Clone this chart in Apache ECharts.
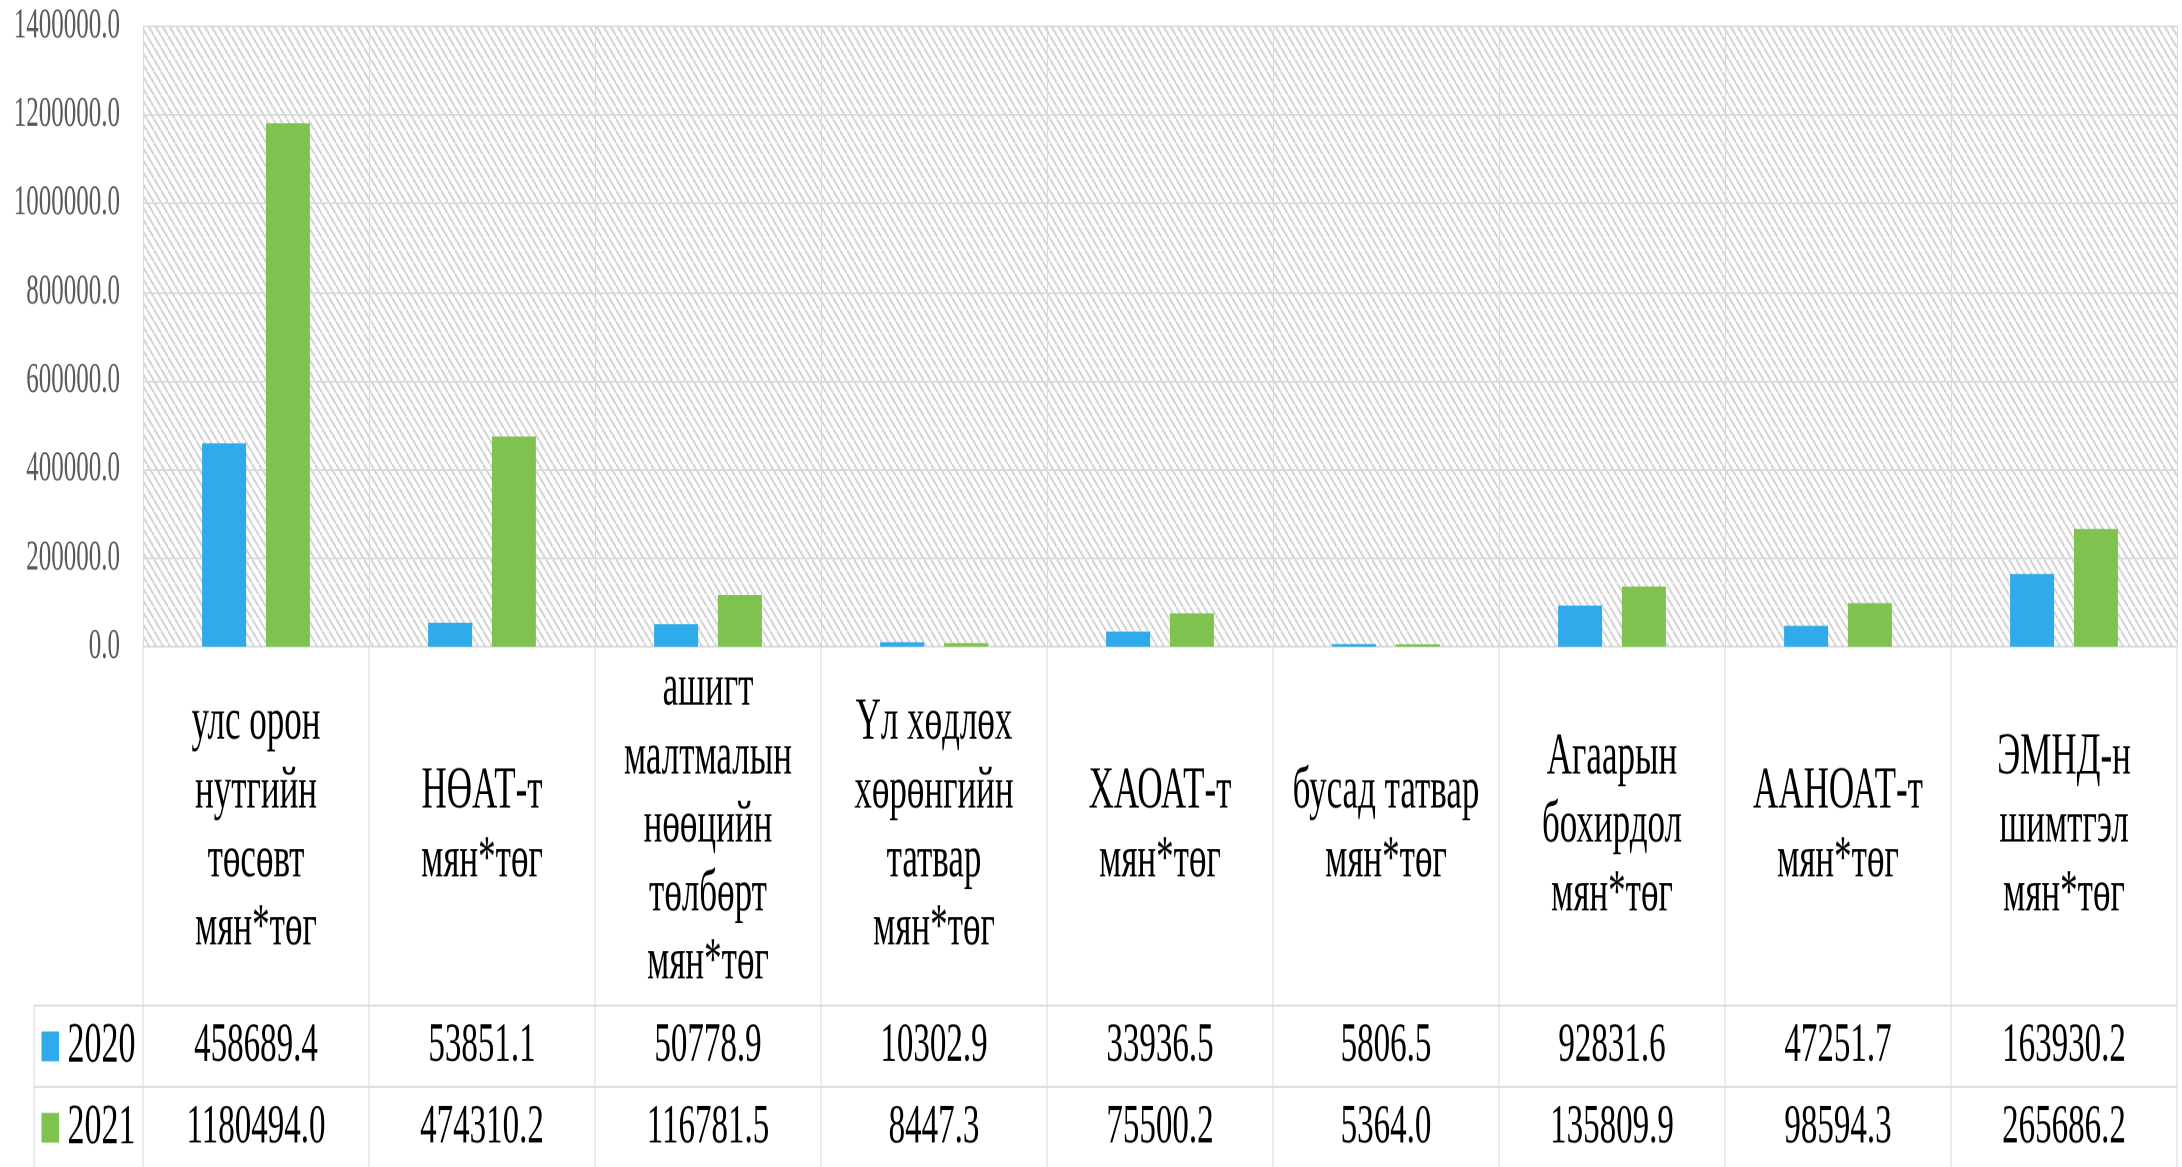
<!DOCTYPE html>
<html>
<head>
<meta charset="utf-8">
<script src="https://cdn.jsdelivr.net/npm/echarts@6/dist/echarts.min.js"></script>
<style>
  html, body { margin: 0; padding: 0; background: #fff; overflow: hidden; }
  #wrap { width: 2182px; height: 1167px; overflow: hidden; position: relative; }
  #chart { width: 2182px; height: 688px; transform: scaleY(1.7); transform-origin: 0 0; }
</style>
</head>
<body>
<div id="wrap"><div id="chart"></div></div>
<script>
// ---- data ----
const categories = [
  'улс орон\nнутгийн\nтөсөвт\nмян*төг',
  'НӨАТ-т\nмян*төг',
  'ашигт\nмалтмалын\nнөөцийн\nтөлбөрт\nмян*төг',
  'Үл хөдлөх\nхөрөнгийн\nтатвар\nмян*төг',
  'ХАОАТ-т\nмян*төг',
  'бусад татвар\nмян*төг',
  'Агаарын\nбохирдол\nмян*төг',
  'ААНОАТ-т\nмян*төг',
  'ЭМНД-н\nшимтгэл\nмян*төг'
];
const seriesNames = ['2020', '2021'];
const values2020 = [458689.4, 53851.1, 50778.9, 10302.9, 33936.5, 5806.5, 92831.6, 47251.7, 163930.2];
const values2021 = [1180494.0, 474310.2, 116781.5, 8447.3, 75500.2, 5364.0, 135809.9, 98594.3, 265686.2];
const yMin = 0, yMax = 1400000, yInterval = 200000;

// ---- style ----
const colors = ['#2faaea', '#80c24f'];
const lineColor = '#d9d9d9';
const serif = "'Liberation Serif', 'Times New Roman', 'DejaVu Serif', serif";

// hatch pattern tile (drawn at 2x)
const tile = document.createElement('canvas');
tile.width = 14; tile.height = 14;
(function () {
  const c = tile.getContext('2d');
  c.fillStyle = '#ffffff'; c.fillRect(0, 0, 14, 14);
  c.strokeStyle = '#d4d4d4'; c.lineWidth = 3.4;
  [-14, 0, 14].forEach(function (o) {
    c.beginPath(); c.moveTo(o, 0); c.lineTo(o + 14, 14); c.stroke();
  });
})();

const allSeriesValues = [values2020, values2021];
const tableData = [];
allSeriesValues.forEach(function (vals, s) {
  vals.forEach(function (v, i) { tableData.push([i, s, v]); });
});

function cellRect(api) {
  const c = api.coord([api.value(0), api.value(1)]);
  const s = api.size([1, 1]);
  return { x: c[0] - s[0] / 2, y: c[1] - s[1] / 2, width: s[0], height: s[1], cx: c[0], cy: c[1] };
}
function cellBox(r) {
  return { type: 'rect', shape: { x: r.x, y: r.y, width: r.width, height: r.height },
           style: { fill: '#ffffff', stroke: lineColor, lineWidth: 1 } };
}

const chart = echarts.init(document.getElementById('chart'), null, { renderer: 'canvas', devicePixelRatio: 2 });

const option = {
  animation: false,
  backgroundColor: '#ffffff',
  grid: [
    { left: 143, right: 5, top: 15.3, height: 365.1, show: true, borderWidth: 0,
      backgroundColor: { image: tile, repeat: 'repeat', scaleX: 0.5, scaleY: 0.5 } },
    { left: 143, right: 5, top: 380.4, height: 211.1 },
    { left: 143, right: 5, top: 591.5, height: 95.8 },
    { left: 34, width: 109, top: 591.5, height: 95.8 }
  ],
  xAxis: [
    { type: 'category', gridIndex: 0, data: categories,
      axisLabel: { show: false }, axisTick: { show: false },
      axisLine: { show: true, lineStyle: { color: lineColor, width: 1 } },
      splitLine: { show: true, lineStyle: { color: lineColor, width: 1 } } },
    { type: 'category', gridIndex: 1, data: categories, show: false },
    { type: 'category', gridIndex: 2, data: categories, show: false },
    { type: 'category', gridIndex: 3, data: ['legend'], show: false }
  ],
  yAxis: [
    { type: 'value', gridIndex: 0, min: yMin, max: yMax, interval: yInterval,
      axisLine: { show: false }, axisTick: { show: false },
      axisLabel: { margin: 23, color: '#595959', fontFamily: serif, fontSize: 25,
        formatter: function (v) { return v.toFixed(1); } },
      splitLine: { show: true, lineStyle: { color: lineColor, width: 1 } } },
    { type: 'category', gridIndex: 1, data: ['names'], show: false },
    { type: 'category', gridIndex: 2, data: seriesNames, inverse: true, show: false },
    { type: 'category', gridIndex: 3, data: seriesNames, inverse: true, show: false }
  ],
  series: [
    { name: seriesNames[0], type: 'bar', xAxisIndex: 0, yAxisIndex: 0, data: values2020,
      barWidth: 44, barGap: '45%', itemStyle: { color: colors[0] } },
    { name: seriesNames[1], type: 'bar', xAxisIndex: 0, yAxisIndex: 0, data: values2021,
      barWidth: 44, barGap: '45%', itemStyle: { color: colors[1] } },
    { type: 'custom', xAxisIndex: 1, yAxisIndex: 1,
      data: categories.map(function (c, i) { return [i, 0]; }),
      encode: { x: 0, y: 1 },
      renderItem: function (params, api) {
        const r = cellRect(api);
        return { type: 'group', children: [
          cellBox(r),
          { type: 'text', x: r.cx, y: r.cy,
            style: { text: categories[params.dataIndex], align: 'center', verticalAlign: 'middle',
                     font: '35px ' + serif, lineHeight: 40.3, fill: '#000000' } }
        ] };
      } },
    { type: 'custom', xAxisIndex: 2, yAxisIndex: 2, data: tableData,
      encode: { x: 0, y: 1 },
      renderItem: function (params, api) {
        const r = cellRect(api);
        return { type: 'group', children: [
          cellBox(r),
          { type: 'text', x: r.cx, y: r.cy,
            style: { text: api.value(2).toFixed(1), align: 'center', verticalAlign: 'middle',
                     font: '33px ' + serif, fill: '#000000' } }
        ] };
      } },
    { type: 'custom', xAxisIndex: 3, yAxisIndex: 3,
      data: seriesNames.map(function (n, s) { return [0, s]; }),
      encode: { x: 0, y: 1 },
      renderItem: function (params, api) {
        const r = cellRect(api);
        const s = params.dataIndex;
        return { type: 'group', children: [
          cellBox(r),
          { type: 'text', x: r.cx, y: r.cy,
            style: { text: '{sq|} ' + seriesNames[s], align: 'center', verticalAlign: 'middle',
                     font: '34px ' + serif, fill: '#000000',
                     rich: { sq: { width: 17.5, height: 17.5, backgroundColor: colors[s] } } } }
        ] };
      } }
  ]
};
chart.setOption(option);
</script>
</body>
</html>
